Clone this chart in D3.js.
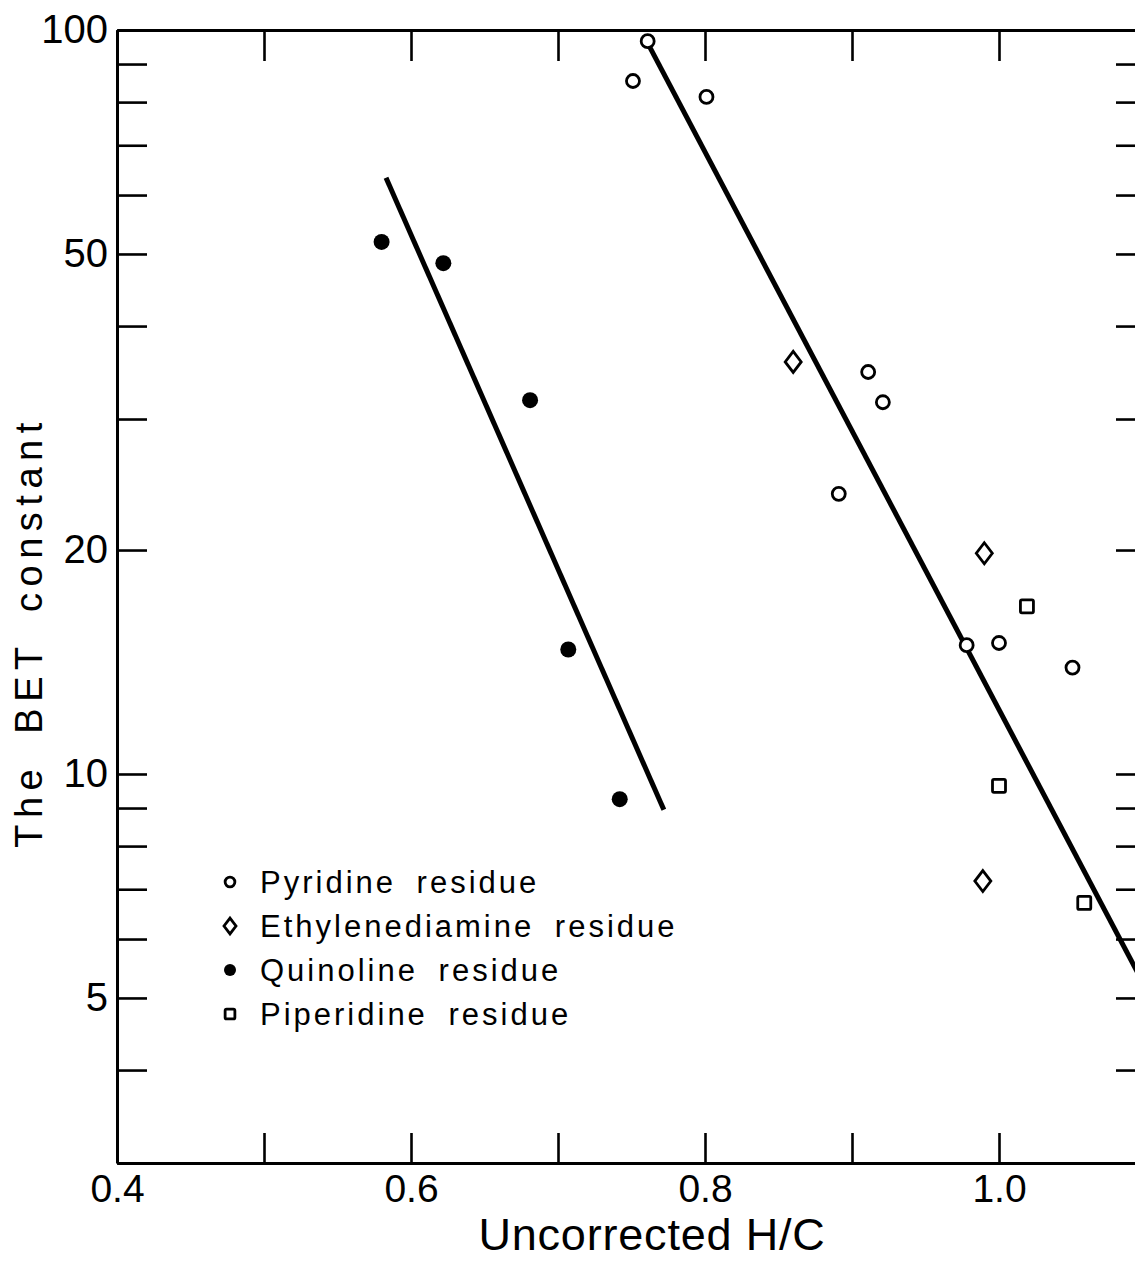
<!DOCTYPE html>
<html>
<head>
<meta charset="utf-8">
<script src="https://cdn.jsdelivr.net/npm/d3@7"></script>
<style>
  html, body { margin: 0; padding: 0; background: #fff; }
  svg { display: block; font-family: "Liberation Sans", Arial, sans-serif; }
  .axis .domain { stroke: #000; stroke-width: 3; }
  .axis .tick line { stroke: #000; stroke-width: 2.6; }
  .axis .tick text { fill: #000; }
</style>
</head>
<body>
<svg width="1135" height="1262"></svg>
<script>
'use strict';

// BET constant vs. uncorrected H/C
var pyridineH = [0.751, 0.761, 0.801, 0.891, 0.911, 0.921, 0.978, 1.0, 1.05],
    pyridineC = [85.4, 96.6, 81.3, 23.8, 34.7, 31.6, 14.9, 15.0, 13.9];
var ethyleneH = [0.86, 0.99, 0.989],
    ethyleneC = [35.8, 19.8, 7.18];
var quinolineH = [0.58, 0.622, 0.681, 0.707, 0.742],
    quinolineC = [51.9, 48.6, 31.8, 14.7, 9.25];
var piperidineH = [1.019, 1.0, 1.058],
    piperidineC = [16.8, 9.64, 6.71];

// fitted lines (end points)
var quinolineFitH = [0.583, 0.772],
    quinolineFitC = [63.3, 8.95];
var pyridineFitH = [0.761, 1.1],
    pyridineFitC = [96, 5.15];

var xTicks = [0.4, 0.5, 0.6, 0.7, 0.8, 0.9, 1.0, 1.1],
    xLabels = [0.4, 0.6, 0.8, 1.0];
var yTicks = [3, 4, 5, 6, 7, 8, 9, 10, 20, 30, 40, 50, 60, 70, 80, 90, 100],
    yLabels = [5, 10, 20, 50, 100];

var legendLabels = ['Pyridine residue', 'Ethylenediamine residue', 'Quinoline residue', 'Piperidine residue'],
    legendKinds = ['open', 'diamond', 'filled', 'square'];

var svg = d3.select('svg');
svg.append('rect').attr('width', 1135).attr('height', 1262).attr('fill', '#fff');

var x = d3.scaleLinear().domain([0.4, 1.1]).range([117, 1146]),
    y = d3.scaleLog().domain([3, 100]).range([1163, 30]);

var fmtX = function (d) { return xLabels.indexOf(d) >= 0 ? d.toFixed(1) : ''; },
    fmtY = function (d) { return yLabels.indexOf(d) >= 0 ? String(d) : ''; };

// axes: ticks point inward on all four sides
var bottom = svg.append('g').attr('class', 'axis')
    .attr('transform', 'translate(0,' + y(3) + ')')
    .call(d3.axisBottom(x).tickValues(xTicks).tickFormat(fmtX).tickSizeInner(-30).tickSizeOuter(0).tickPadding(11));
bottom.selectAll('text').style('font-size', '39px');

svg.append('g').attr('class', 'axis')
    .attr('transform', 'translate(0,' + y(100) + ')')
    .call(d3.axisTop(x).tickValues(xTicks).tickFormat('').tickSizeInner(-31).tickSizeOuter(0));

var left = svg.append('g').attr('class', 'axis')
    .attr('transform', 'translate(' + x(0.4) + ',0)')
    .call(d3.axisLeft(y).tickValues(yTicks).tickFormat(fmtY).tickSizeInner(-30).tickSizeOuter(0).tickPadding(9));
left.selectAll('text').style('font-size', '40px');

svg.append('g').attr('class', 'axis')
    .attr('transform', 'translate(' + x(1.1) + ',0)')
    .call(d3.axisRight(y).tickValues(yTicks).tickFormat('').tickSizeInner(-30).tickSizeOuter(0));

// axis titles
svg.append('text')
    .attr('x', 652).attr('y', 1250)
    .attr('text-anchor', 'middle')
    .style('font-size', '45px').style('letter-spacing', '0.8px')
    .text('Uncorrected H/C');

svg.append('text')
    .attr('transform', 'translate(42,632) rotate(-90)')
    .attr('text-anchor', 'middle')
    .style('font-size', '38px').style('letter-spacing', '6.5px').style('word-spacing', '12px')
    .text('The BET constant');

// fitted lines
var line = d3.line()
    .x(function (d) { return x(d[0]); })
    .y(function (d) { return y(d[1]); });

[[quinolineFitH, quinolineFitC], [pyridineFitH, pyridineFitC]].forEach(function (f) {
    svg.append('path')
        .datum(d3.zip(f[0], f[1]))
        .attr('d', line)
        .attr('fill', 'none')
        .attr('stroke', '#000')
        .attr('stroke-width', 5);
});

// marker drawing
function drawMarker(g, kind, small) {
    var k = small ? 0.75 : 1;
    if (kind === 'open') {
        g.append('circle').attr('r', 6.5 * k).attr('fill', '#fff').attr('stroke', '#000').attr('stroke-width', 2.8);
    } else if (kind === 'filled') {
        g.append('circle').attr('r', 8 * k).attr('fill', '#000');
    } else if (kind === 'diamond') {
        g.append('path')
            .attr('d', 'M0,' + (-10.5 * k) + 'L' + (8 * k) + ',0L0,' + (10.5 * k) + 'L' + (-8 * k) + ',0Z')
            .attr('fill', '#fff').attr('stroke', '#000').attr('stroke-width', 2.8);
    } else {
        var s = 6.5 * k;
        g.append('rect').attr('x', -s).attr('y', -s).attr('width', 2 * s).attr('height', 2 * s)
            .attr('rx', 1.5).attr('fill', '#fff').attr('stroke', '#000').attr('stroke-width', 2.8);
    }
}

var series = [
    { kind: 'open', h: pyridineH, c: pyridineC },
    { kind: 'diamond', h: ethyleneH, c: ethyleneC },
    { kind: 'filled', h: quinolineH, c: quinolineC },
    { kind: 'square', h: piperidineH, c: piperidineC }
];

series.forEach(function (s) {
    d3.zip(s.h, s.c).forEach(function (p) {
        var g = svg.append('g').attr('transform', 'translate(' + x(p[0]) + ',' + y(p[1]) + ')');
        drawMarker(g, s.kind, false);
    });
});

// legend
var legend = svg.append('g').attr('transform', 'translate(230,882)');
legendLabels.forEach(function (label, i) {
    var row = legend.append('g').attr('transform', 'translate(0,' + (i * 44) + ')');
    drawMarker(row, legendKinds[i], true);
    row.append('text')
        .attr('x', 30).attr('y', 11)
        .style('font-size', '31px').style('letter-spacing', '3px').style('word-spacing', '9px')
        .text(label);
});
</script>
</body>
</html>
